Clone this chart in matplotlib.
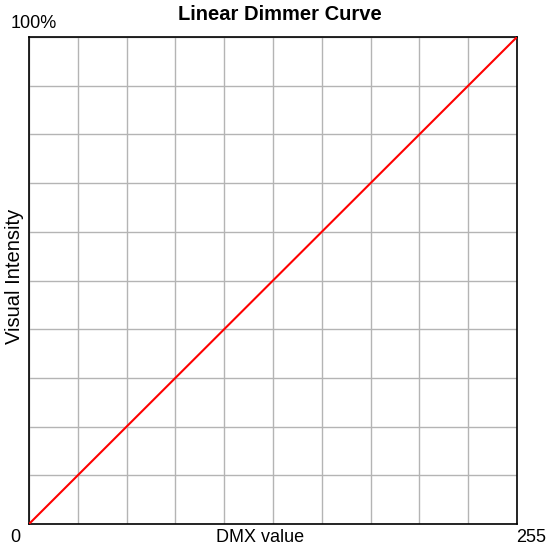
import numpy as np
import matplotlib
matplotlib.use('Agg')
import matplotlib.pyplot as plt

plt.rcParams['font.family'] = ['Liberation Sans', 'DejaVu Sans']

# Dimmer curve: DMX input vs visual intensity (%)
dmx = [0, 255]
intensity = [0, 100]

fig = plt.figure(figsize=(5.48, 5.52), dpi=100)
ax = fig.add_axes([29/548, 1-524/552, (517-29)/548, (524-37)/552])

ax.plot(dmx, intensity, color='#ff0000', lw=1.5, zorder=3)

ax.set_xlim(0, 255)
ax.set_ylim(0, 100)
ax.set_xticks(np.linspace(0, 255, 11))
ax.set_yticks(np.linspace(0, 100, 11))
ax.tick_params(length=0, labelbottom=False, labelleft=False)
ax.grid(True, color='#b4b4b4', lw=1)
for s in ax.spines.values():
    s.set_color('black')
    s.set_linewidth(1.2)

fig.text(280/548, 1-15/552, 'Linear Dimmer Curve', ha='center', va='center',
         fontsize=14.5, fontweight='bold')
fig.text(15/548, 1-538/552, '0', ha='center', va='center', fontsize=13)
fig.text(531/548, 1-538/552, '255', ha='center', va='center', fontsize=13)
fig.text(260/548, 1-538/552, 'DMX value', ha='center', va='center', fontsize=13)
fig.text(34/548, 1-24/552, '100%', ha='center', va='center', fontsize=13)
fig.text(15/548, 1-276/552, 'Visual Intensity', ha='center', va='center',
         rotation=90, fontsize=14.5)

fig.savefig('out.png', dpi=100)
